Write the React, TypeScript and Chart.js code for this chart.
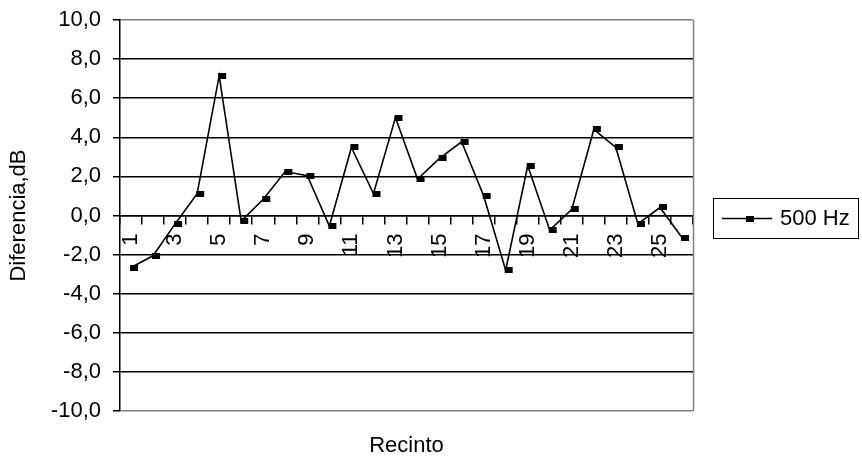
import React, { useEffect, useRef } from "react";
import { Chart, registerables } from "chart.js";

Chart.register(...registerables);

const categories = ["1","2","3","4","5","6","7","8","9","10","11","12","13","14","15","16","17","18","19","20","21","22","23","24","25","26"];
const values500 = [-2.66, -2.06, -0.43, 1.12, 7.15, -0.29, 0.83, 2.25, 2.04, -0.54, 3.48, 1.12, 5.01, 1.86, 2.92, 3.77, 1.01, -2.8, 2.54, -0.75, 0.31, 4.4, 3.48, -0.43, 0.41, -1.13];
const seriesName = "500 Hz";
const yMin = -10;
const yMax = 10;
const yStep = 2;
const xTitle = "Recinto";
const yTitle = "Diferencia,dB";

const FONT = "'Liberation Sans', Arial, sans-serif";

function makeMarker(): HTMLCanvasElement {
  const c = document.createElement("canvas");
  c.width = 16;
  c.height = 6;
  const g = c.getContext("2d")!;
  g.fillStyle = "#000";
  g.fillRect(7, 0, 8, 6);
  return c;
}

export default function App() {
  const ref = useRef<HTMLCanvasElement | null>(null);
  useEffect(() => {
    const marker = makeMarker();
    const extras = {
      id: "extras",
      afterDraw(chart: any) {
        const ctx = chart.ctx;
        const a = chart.chartArea;
        ctx.save();
        // right border
        ctx.strokeStyle = "#808080";
        ctx.lineWidth = 1.5;
        ctx.beginPath();
        ctx.moveTo(Math.round(a.right) + 0.5, a.top);
        ctx.lineTo(Math.round(a.right) + 0.5, a.bottom);
        ctx.stroke();
        // x title
        ctx.fillStyle = "#000";
        ctx.font = `22px ${FONT}`;
        ctx.textAlign = "center";
        ctx.textBaseline = "middle";
        ctx.fillText(xTitle, (a.left + a.right) / 2, 446);
        // legend
        ctx.strokeStyle = "#000";
        ctx.lineWidth = 1;
        ctx.strokeRect(713.5, 198.5, 145, 40);
        ctx.lineWidth = 1.5;
        ctx.beginPath();
        ctx.moveTo(722, 218.5);
        ctx.lineTo(772, 218.5);
        ctx.stroke();
        ctx.drawImage(marker, 747 - 8, 218.5 - 3);
        ctx.textAlign = "left";
        ctx.fillText(seriesName, 780, 219);
        ctx.restore();
      },
    };
    const chart = new Chart(ref.current!, {
      type: "line",
      data: {
        labels: categories,
        datasets: [
          {
            label: seriesName,
            data: values500,
            borderColor: "#000",
            backgroundColor: "#000",
            borderWidth: 1.6,
            tension: 0,
            pointStyle: marker as any,
            pointRadius: 4,
          },
        ],
      },
      options: {
        animation: false,
        responsive: false,
        devicePixelRatio: 1,
        layout: { padding: { left: 0, right: 169, top: 20, bottom: 53 } },
        plugins: { legend: { display: false }, tooltip: { enabled: false } },
        scales: {
          x: {
            type: "category",
            position: { y: 0 } as any,
            offset: true,
            grid: {
              offset: true,
              drawOnChartArea: false,
              drawTicks: true,
              tickLength: 8,
              color: "#000",
              lineWidth: 1.5,
            },
            border: { display: true, color: "#000", width: 1.5 },
            ticks: {
              autoSkip: false,
              minRotation: 90,
              maxRotation: 90,
              padding: 10,
              color: "#000",
              font: { size: 22, family: FONT },
              callback: (_v: any, i: number) => (i % 2 === 0 ? categories[i] : ""),
            },
          },
          y: {
            min: yMin,
            max: yMax,
            afterFit: (s: any) => {
              s.width = 120;
              s.paddingTop = 0;
              s.paddingBottom = 0;
            },
            grid: {
              color: (c: any) => (c.tick && (c.tick.value === yMax || c.tick.value === yMin) ? "#808080" : "#000"),
              tickColor: "#000",
              tickLength: 7,
              lineWidth: 1.5,
            },
            border: { display: true, color: "#000", width: 1.5 },
            title: {
              display: true,
              text: yTitle,
              color: "#000",
              font: { size: 22, family: FONT },
              padding: { top: 6, bottom: 0 },
            },
            ticks: {
              stepSize: yStep,
              padding: 12,
              color: "#000",
              font: { size: 22, family: FONT },
              callback: (v: any) => Number(v).toFixed(1).replace(".", ","),
            },
          },
        },
      },
      plugins: [extras],
    });
    return () => chart.destroy();
  }, []);
  return (
    <div style={{ position: "fixed", left: 0, top: 0, width: 862, height: 464, background: "#fff" }}>
      <canvas ref={ref} width={862} height={464} />
    </div>
  );
}
